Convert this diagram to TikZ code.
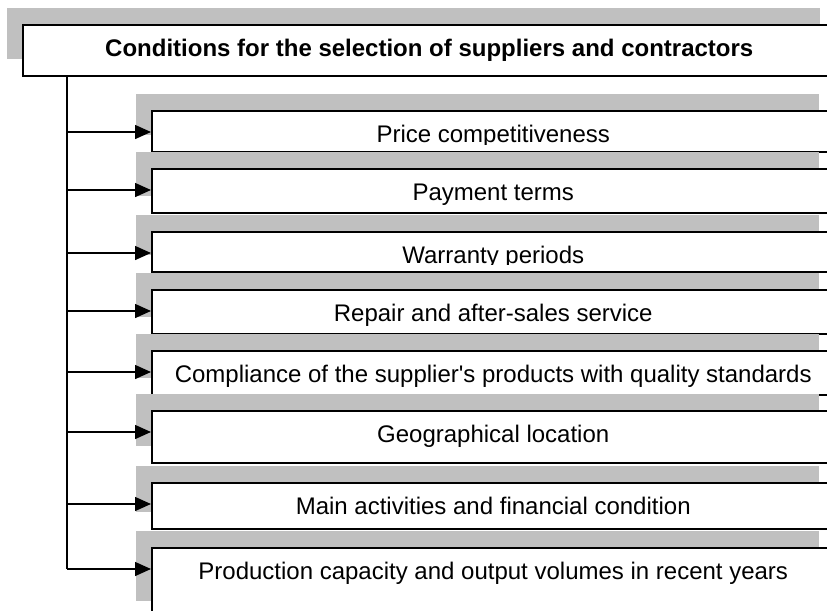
\documentclass[tikz,border=0pt]{standalone}
\usepackage{fontspec}
\setmainfont{Liberation Sans}
\usepackage{tikz}
\usetikzlibrary{arrows.meta,shadows}
\definecolor{boxshadow}{HTML}{C0C0C0}
\tikzset{
  greyshadow/.style={drop shadow={shadow xshift=-8pt, shadow yshift=8.5pt, fill=boxshadow, opacity=1}},
  headbox/.style={draw, fill=white, line width=0.75pt, anchor=north west, inner sep=0pt, minimum width=406.5pt, minimum height=25.5pt, font=\fontsize{12}{14}\selectfont\bfseries, greyshadow},
  condbox/.style={draw, fill=white, line width=0.75pt, anchor=north west, inner sep=0pt, minimum width=341.5pt, greyshadow,
    path picture={
      \clip (path picture bounding box.north west) rectangle ([yshift=3.5pt]path picture bounding box.south east);
      \node[anchor=base, inner sep=0pt, font=\fontsize{12}{14}\selectfont] at ([yshift=-16pt]path picture bounding box.north) {#1};
    }},
  branch/.style={-{Triangle[length=8pt,width=7pt]}, line width=0.75pt}
}

\begin{document}
\begin{tikzpicture}[x=0.5pt,y=-0.5pt]
\useasboundingbox (0,0) rectangle (827,611);
\clip (0,0) rectangle (827,611);
\node[headbox] (conditions) at (22,24) {Conditions for the selection of suppliers and contractors};
\node[condbox={Price competitiveness}, minimum height=20.5pt] (price) at (151,110) {};
\node[condbox={Payment terms}, minimum height=22pt] (payment) at (151,168) {};
\node[condbox={Warranty periods}, minimum height=20pt] (warranty) at (151,231) {};
\node[condbox={Repair and after-sales service}, minimum height=22pt] (repair) at (151,289) {};
\node[condbox={Compliance of the supplier\textquotesingle s products with quality standards}, minimum height=22pt] (compliance) at (151,350) {};
\node[condbox={Geographical location}, minimum height=26pt] (location) at (151,410) {};
\node[condbox={Main activities and financial condition}, minimum height=23pt] (activities) at (151,482) {};
\node[condbox={Production capacity and output volumes in recent years}, minimum height=35pt] (capacity) at (151,547) {};
% trunk and branches
\coordinate (trunk) at ([xshift=22.5pt]conditions.south west);
\foreach \c in {price,payment,warranty,repair,compliance,location,activities,capacity}
  \coordinate (\c-in) at ([yshift=-11pt]\c.north west);
\draw[line width=0.75pt] (trunk) -- (trunk |- capacity-in);
\foreach \c in {price,payment,warranty,repair,compliance,location,activities,capacity}
  \draw[branch] (trunk |- \c-in) -- (\c-in);
\end{tikzpicture}
\end{document}
